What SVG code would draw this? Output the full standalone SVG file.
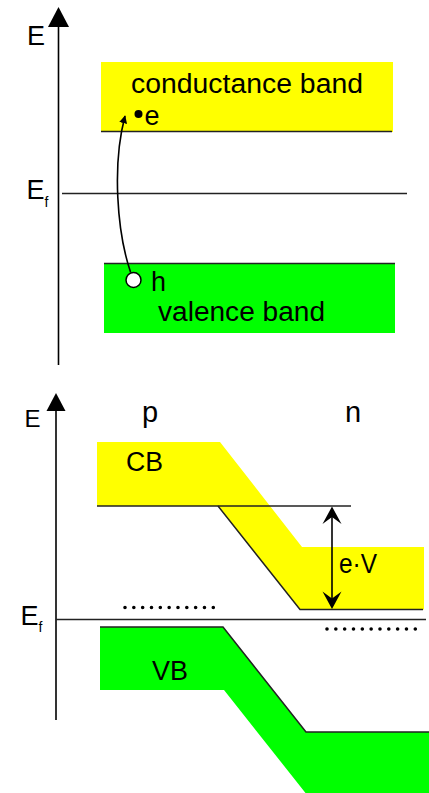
<svg xmlns="http://www.w3.org/2000/svg" width="429" height="793" viewBox="0 0 429 793">
<defs>
<style>
.t{font-family:"Liberation Sans",Arial,sans-serif;fill:#000}
.lbl{font-size:27px}
.sub{font-size:14px}
.ax{stroke:#000;stroke-width:1.6;fill:none}
.ln{stroke:#222;stroke-width:1.5;fill:none}
.cb{fill:#ffff00}
.vb{fill:#00ff00}
.dots{stroke:#000;stroke-width:3.6;stroke-linecap:round;stroke-dasharray:0 8.83;fill:none}
</style>
<marker id="ah" viewBox="0 0 10 10" refX="9" refY="5" markerWidth="8" markerHeight="8" markerUnits="userSpaceOnUse" orient="auto">
<path d="M0,0 L10,5 L0,10 z" fill="#000"/>
</marker>
</defs>
<rect width="429" height="793" fill="#fff"/>

<g id="top-diagram">
<g id="top-cb">
<rect class="cb" x="101" y="62" width="292" height="70"/>
<text class="t lbl" x="131" y="93" textLength="232" lengthAdjust="spacingAndGlyphs">conductance band</text>
</g>
<g id="top-vb">
<rect class="vb" x="104" y="263" width="291" height="70"/>
<text class="t lbl" x="158" y="320.5" textLength="167" lengthAdjust="spacingAndGlyphs">valence band</text>
</g>
<g id="electron">
<circle cx="138.5" cy="114" r="4" fill="#000"/>
<text class="t lbl" x="144.5" y="125">e</text>
</g>
<g id="top-axis">
<line class="ax" x1="58.5" y1="26" x2="58.5" y2="365"/>
<path d="M58.5,7 L69,27 L48,27 z" fill="#000"/>
<text class="t" font-size="27" x="27" y="45">E</text>
<text class="t" font-size="27" x="26.5" y="198.5">E</text>
<text class="t sub" x="44.5" y="206.5">f</text>
</g>
<g id="top-lines" class="connectors">
<line class="ln" x1="101" y1="131.5" x2="392" y2="131.5"/>
<line class="ln" x1="62" y1="193.5" x2="407" y2="193.5"/>
<line class="ln" x1="104" y1="263.5" x2="395" y2="263.5"/>
<path class="ax" d="M130.5,272 C117,232 112,165 125,116" stroke-width="1.4" marker-end="url(#ah)"/>
</g>
<g id="hole">
<circle cx="133.5" cy="280" r="7.5" fill="#fff" stroke="#000" stroke-width="1.5"/>
<text class="t lbl" x="151" y="291">h</text>
</g>
</g>

<g id="bottom-diagram">
<g id="bottom-cb">
<path class="cb" d="M97,442 L220,442 L302,547 L424,547 L424,609.5 L300,609.5 L218,506 L97,506 z"/>
<text class="t lbl" x="126" y="471" textLength="37" lengthAdjust="spacingAndGlyphs">CB</text>
</g>
<g id="bottom-vb">
<path class="vb" d="M100,627 L223,627 L306,732 L429,732 L429,793 L305.5,793 L224,690 L100,690 z"/>
<text class="t lbl" x="152" y="679.5" textLength="36" lengthAdjust="spacingAndGlyphs">VB</text>
</g>
<g id="bottom-axis">
<line class="ax" x1="56" y1="410" x2="56" y2="720"/>
<path d="M56,393 L65.5,411 L46.5,411 z" fill="#000"/>
<text class="t" font-size="24" x="24.5" y="426.5">E</text>
<text class="t" font-size="27" x="20.5" y="624.5">E</text>
<text class="t sub" x="38.5" y="632">f</text>
</g>
<g id="region-labels">
<text class="t" font-size="29" x="142" y="422">p</text>
<text class="t" font-size="29" x="345" y="422">n</text>
</g>
<g id="bottom-lines" class="connectors">
<line class="ln" x1="97" y1="506" x2="351" y2="506"/>
<path class="ln" d="M218,506 L300,609.5 L423,609.5"/>
<line class="ln" x1="56" y1="619.5" x2="426" y2="619.5"/>
<path class="ln" d="M100,627 L223,627 L306,732 L429,732"/>
<line class="dots" x1="125" y1="607.5" x2="216" y2="607.5"/>
<line class="dots" x1="327" y1="629" x2="418" y2="629"/>
<line class="ax" x1="332" y1="512" x2="332" y2="604"/>
<path d="M332,506.5 L341.5,524 L332,517 L322.5,524 z" fill="#000"/>
<path d="M332,609 L341.5,591.5 L332,598.5 L322.5,591.5 z" fill="#000"/>
</g>
<g id="ev-label">
<text class="t lbl" x="339" y="573" textLength="38" lengthAdjust="spacingAndGlyphs">e·V</text>
</g>
</g>
</svg>
